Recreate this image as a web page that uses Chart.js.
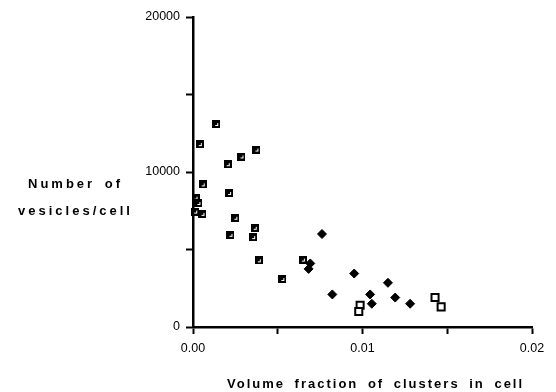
<!DOCTYPE html>
<html>
<head>
<meta charset="utf-8">
<script src="https://cdn.jsdelivr.net/npm/chart.js@4/dist/chart.umd.min.js"></script>
<style>
  body { margin: 0; background: #fff; }
  #wrap { position: relative; width: 556px; height: 392px; }
  .title {
    position: absolute;
    font-family: "Liberation Sans", Arial, sans-serif;
    font-weight: bold;
    font-size: 13px;
    color: #000;
    white-space: nowrap;
  }
  #ytitle { left: 8px; top: 170px; width: 135px; text-align: center; line-height: 27px; letter-spacing: 3px; word-spacing: 3px; }
  #xtitle { left: 227px; top: 376px; letter-spacing: 2px; word-spacing: 4px; }
</style>
</head>
<body>
<div id="wrap">
  <canvas id="vesChart" width="556" height="392"></canvas>
  <div class="title" id="ytitle">Number of<br>vesicles/cell</div>
  <div class="title" id="xtitle">Volume fraction of clusters in cell</div>
</div>
<script>
// filled squares
const squareX = [0.00137, 0.00040, 0.00374, 0.00286, 0.00205, 0.00057, 0.00213, 0.00015, 0.00032, 0.00013, 0.00056, 0.00250, 0.00364, 0.00355, 0.00221, 0.00388, 0.00648, 0.00527];
const squareY = [13100, 11800, 11450, 11000, 10500, 9200, 8650, 8350, 8000, 7450, 7300, 7050, 6400, 5800, 5950, 4300, 4350, 3100];
// open squares
const openX = [0.00986, 0.00978, 0.01428, 0.01464];
const openY = [1400, 1000, 1900, 1300];
// diamonds
const diamondX = [0.00761, 0.00692, 0.00682, 0.00822, 0.00951, 0.01045, 0.01055, 0.01150, 0.01193, 0.01281];
const diamondY = [6000, 4100, 3750, 2100, 3450, 2100, 1500, 2850, 1900, 1500];
// labelled ticks
const xTickLabels = [0, 0.01, 0.02];
const yTickLabels = [0, 10000, 20000];

function pts(xs, ys) {
    return xs.map((x, i) => ({ x: x, y: ys[i] }));
}

// black square with a small white mark inside
const sq = document.createElement('canvas');
sq.width = 8; sq.height = 8;
const sc = sq.getContext('2d');
sc.fillStyle = '#000'; sc.fillRect(0, 0, 8, 8);
sc.fillStyle = '#fff'; sc.fillRect(3, 3, 3, 3);
sc.fillStyle = '#000'; sc.fillRect(3, 3, 2, 2);

const spacing = {
    id: 'spacing',
    beforeInit(chart) { chart.ctx.letterSpacing = '1.5px'; }
};

const isLabelled = (list, v) => list.some(t => Math.abs(t - v) < 1e-9);

new Chart(document.getElementById('vesChart'), {
    type: 'scatter',
    data: {
        datasets: [{
            label: 'squares',
            data: pts(squareX, squareY),
            pointStyle: sq,
            clip: false
        }, {
            label: 'open squares',
            data: pts(openX, openY),
            pointStyle: 'rect',
            pointRadius: 5,
            borderWidth: 2,
            borderColor: '#000',
            backgroundColor: '#fff',
            clip: false
        }, {
            label: 'diamonds',
            data: pts(diamondX, diamondY),
            pointStyle: 'rectRot',
            pointRadius: 4.5,
            borderWidth: 1,
            borderColor: '#000',
            backgroundColor: '#000',
            clip: false
        }]
    },
    options: {
        responsive: false,
        animation: false,
        devicePixelRatio: 1,
        layout: { padding: { left: 133, right: 24, top: 17, bottom: 35 } },
        scales: {
            x: {
                type: 'linear',
                min: 0,
                max: 0.02,
                afterFit(s) { s.height = 30; },
                ticks: {
                    stepSize: 0.005,
                    padding: 7,
                    color: '#000',
                    font: { family: 'Liberation Sans, Arial', size: 12.5 },
                    maxRotation: 0,
                    callback: v => isLabelled(xTickLabels, v) ? v.toFixed(2) : ''
                },
                grid: { drawOnChartArea: false, tickLength: 7, tickWidth: 2, tickColor: '#000' },
                border: { color: '#000', width: 2.5 }
            },
            y: {
                min: 0,
                max: 20000,
                afterFit(s) { s.width = 60; },
                ticks: {
                    stepSize: 5000,
                    padding: 6,
                    color: '#000',
                    font: { family: 'Liberation Sans, Arial', size: 12.5 },
                    callback: v => isLabelled(yTickLabels, v) ? String(v) : ''
                },
                grid: { drawOnChartArea: false, tickLength: 7, tickWidth: 2, tickColor: '#000' },
                border: { color: '#000', width: 2.5 }
            }
        },
        plugins: {
            legend: { display: false },
            tooltip: { enabled: false }
        }
    },
    plugins: [spacing]
});
</script>
</body>
</html>
